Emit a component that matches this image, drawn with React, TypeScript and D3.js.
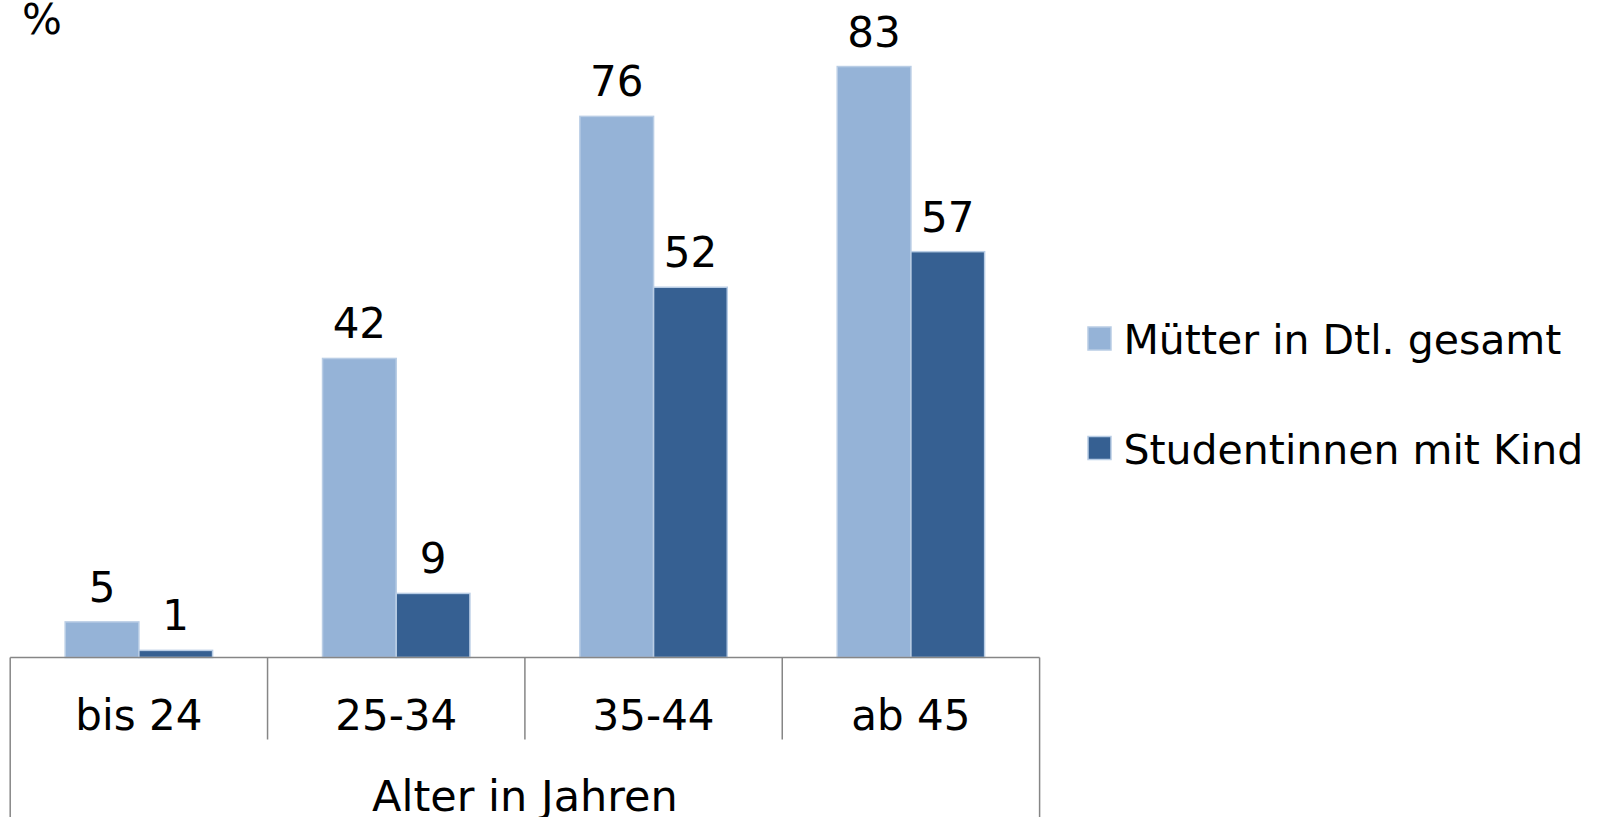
import React from "react";
import * as d3 from "d3";

const categories = ["bis 24", "25-34", "35-44", "ab 45"];
const seriesNames = ["Mütter in Dtl. gesamt", "Studentinnen mit Kind"];
const muetterValues = [5, 42, 76, 83];
const studentinnenValues = [1, 9, 52, 57];
const seriesColors = ["#95b3d7", "#366092"];
const axisTitle = "Alter in Jahren";
const unitLabel = "%";

const W = 1606;
const H = 817;
const FONT = "'DejaVu Sans', Verdana, sans-serif";
const FS = 42;

export default function App() {
  const axisY = 657.5;
  const left = 10.2;
  const right = 1039.6;

  const x = d3.scaleBand<string>().domain(categories).range([left, right]).padding(0);
  const bw = x.bandwidth();
  const xs = d3
    .scaleBand<string>()
    .domain(seriesNames)
    .range([0, bw])
    .paddingInner(0)
    .paddingOuter(0.746);
  const y = d3.scaleLinear().domain([0, 90]).range([axisY, 16.7]);

  const seriesValues = [muetterValues, studentinnenValues];

  const boundaries = categories.map((c) => x(c) as number).concat([right]);

  return (
    <svg
      width={W}
      height={H}
      style={{ position: "absolute", left: 0, top: 0, background: "#fff" }}
      fontFamily={FONT}
    >
      <text x={22} y={33.5} fontSize={FS} fill="#000">
        {unitLabel}
      </text>

      {seriesNames.map((s, si) =>
        categories.map((c, ci) => {
          const v = seriesValues[si][ci];
          const bx = (x(c) as number) + (xs(s) as number);
          const by = y(v);
          return (
            <g key={s + c}>
              <rect
                x={bx}
                y={by}
                width={xs.bandwidth()}
                height={axisY - by}
                fill={seriesColors[si]}
                stroke="#b9cde5"
                strokeWidth={1.5}
              />
              <text
                x={bx + xs.bandwidth() / 2}
                y={by - 20}
                textAnchor="middle"
                fontSize={FS}
                fill="#000"
              >
                {v}
              </text>
            </g>
          );
        })
      )}

      <line x1={left} x2={right} y1={axisY} y2={axisY} stroke="#868686" strokeWidth={1.5} />
      {boundaries.map((bx, i) => {
        const outer = i === 0 || i === boundaries.length - 1;
        return (
          <line
            key={i}
            x1={bx}
            x2={bx}
            y1={axisY}
            y2={outer ? H : 739.5}
            stroke="#868686"
            strokeWidth={1.5}
          />
        );
      })}

      {categories.map((c) => (
        <text
          key={c}
          x={(x(c) as number) + bw / 2}
          y={730}
          textAnchor="middle"
          fontSize={FS}
          fill="#000"
        >
          {c}
        </text>
      ))}

      <text x={(left + right) / 2} y={811} textAnchor="middle" fontSize={43} fill="#000">
        {axisTitle}
      </text>

      {seriesNames.map((s, i) => (
        <g key={s} transform={`translate(0, ${i * 109.5})`}>
          <rect x={1088} y={327} width={23} height={23} fill={seriesColors[i]} stroke="#b9cde5" strokeWidth={1.5} />
          <text x={1123.5} y={354} fontSize={41} fill="#000">
            {s}
          </text>
        </g>
      ))}
    </svg>
  );
}
